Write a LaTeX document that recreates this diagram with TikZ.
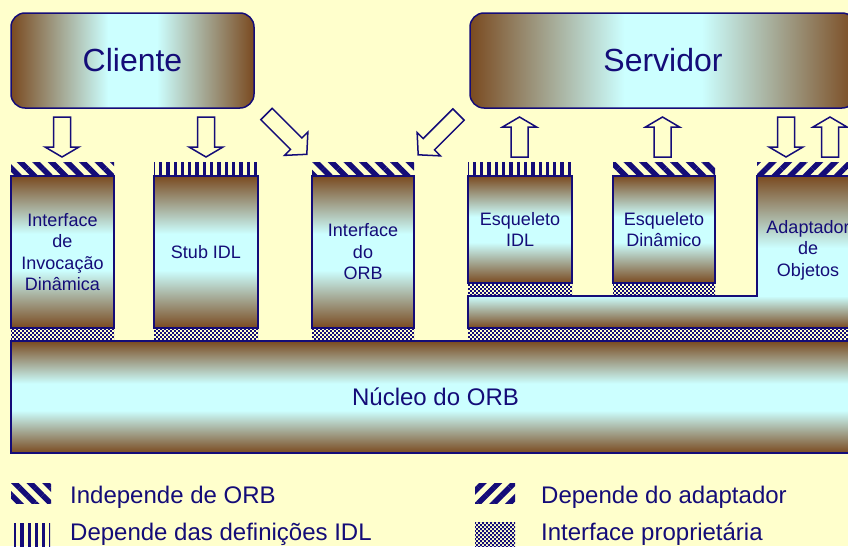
\documentclass[tikz,border=0pt]{standalone}
\usepackage{fontspec}
\setmainfont{Liberation Sans}
\usetikzlibrary{patterns}
\usetikzlibrary{patterns.meta}

\definecolor{bgyellow}{RGB}{255,255,204}
\definecolor{orbbrown}{RGB}{122,74,32}
\definecolor{orbcyan}{RGB}{204,255,255}
\definecolor{orbnavy}{RGB}{20,12,120}

% sombreamentos com faixa ciano no meio
\pgfdeclarehorizontalshading{orbh}{100bp}{color(0bp)=(orbbrown); color(25bp)=(orbbrown);
    color(45bp)=(orbcyan); color(55bp)=(orbcyan); color(75bp)=(orbbrown); color(100bp)=(orbbrown)}
\pgfdeclareverticalshading{orbv}{100bp}{color(0bp)=(orbbrown); color(25bp)=(orbbrown);
    color(44bp)=(orbcyan); color(56bp)=(orbcyan); color(75bp)=(orbbrown); color(100bp)=(orbbrown)}
\pgfdeclareverticalshading{orbdown}{100bp}{color(0bp)=(orbcyan); color(25bp)=(orbcyan);
    color(45bp)=(orbcyan); color(75bp)=(orbbrown); color(100bp)=(orbbrown)}
\pgfdeclareverticalshading{orbup}{100bp}{color(0bp)=(orbbrown); color(25bp)=(orbbrown);
    color(75bp)=(orbcyan); color(100bp)=(orbcyan)}
\pgfdeclarepatternformonly{finechk}{\pgfqpoint{-.05pt}{-.05pt}}{\pgfqpoint{4.05pt}{4.05pt}}{\pgfqpoint{4pt}{4pt}}{
    \pgfpathrectangle{\pgfpointorigin}{\pgfqpoint{1.8pt}{1.8pt}}
    \pgfpathrectangle{\pgfqpoint{2pt}{2pt}}{\pgfqpoint{1.8pt}{1.8pt}}
    \pgfusepath{fill}}

\tikzset{
    outline/.style={draw=orbnavy, line width=1.5pt},
    topbox/.style={outline, rounded corners=14pt, shading=orbh,
        text=orbnavy, font=\fontsize{32}{36}\selectfont, outer sep=0pt},
    block/.style={outline, shading=orbv,
        text=orbnavy, align=center, font=\fontsize{18}{21.5}\selectfont, outer sep=0pt, inner sep=0pt},
    lbl/.style={text=orbnavy, align=center, font=\fontsize{18}{21.5}\selectfont},
    legtext/.style={text=orbnavy, font=\fontsize{24}{28}\selectfont, anchor=base west, inner sep=0pt},
    indep/.style={pattern={Lines[angle=-45,distance=11pt,line width=5.5pt]}, pattern color=orbnavy},
    idldef/.style={pattern={Lines[angle=90,distance=7.3pt,line width=3.3pt]}, pattern color=orbnavy},
    adapt/.style={pattern={Lines[angle=45,distance=11pt,line width=5.5pt]}, pattern color=orbnavy},
    propr/.style={pattern=finechk, pattern color=orbnavy},
    arrowbox/.style={draw=orbnavy, line width=1.5pt, fill=bgyellow, line join=miter},
    blkarrow/.pic={
        \draw[arrowbox] (-8.5,0) -- (-8.5,30) -- (-17,30) -- (0,40) -- (17,30) -- (8.5,30) -- (8.5,0) -- cycle;
    },
    diagarrow/.pic={
        \draw[arrowbox] (-8,0) -- (-8,42) -- (-16.5,42) -- (0,57) -- (16.5,42) -- (8,42) -- (8,0) -- cycle;
    },
}

\begin{document}
\begin{tikzpicture}[x=1pt,y=-1pt]
    \useasboundingbox (0,0) rectangle (848,546);
    \clip (0,0) rectangle (848,546);
    \fill[bgyellow] (0,0) rectangle (848,546);

    % cliente e servidor
    \node[topbox, minimum width=243, minimum height=95] (cli) at (132.5,60.5) {Cliente};
    \node[topbox, minimum width=386, minimum height=95] (srv) at (663,60.5) {Servidor};

    % blocos
    \foreach \xc/\w/\yc/\h/\pat/\nm/\txt in {
        62.5/103/252/152/indep/dii/{Interface\\de\\Invocação\\Dinâmica},
        206/104/252/152/idldef/stub/{Stub IDL},
        363/102/252/152/indep/iorb/{Interface\\do\\ORB},
        520/104/229.5/107/idldef/eidl/{Esqueleto\\IDL},
        664/102/229.5/107/indep/edin/{Esqueleto\\Dinâmico}} {
        \node[block, minimum width=\w, minimum height=\h] (\nm) at (\xc,\yc) {\txt};
        \fill[\pat] (\nm.north west) ++(0,-14) rectangle (\nm.north east);
        \fill[propr] (\nm.south west) rectangle ++(\w,12.5);
    }

    % adaptador de objetos
    \shade[shading=orbdown] (757,176) rectangle (860,296);
    \shade[shading=orbup] (468,296) rectangle (860,328);
    \draw[outline] (468,296) -- (757,296) -- (757,176) -- (860,176) -- (860,328) -- (468,328) -- cycle;
    \node[lbl] (adap) at (808,250) {Adaptador\\de\\Objetos};
    \fill[adapt] (757,162) rectangle (860,176);
    \fill[propr] (468,328) rectangle (860,340.5);

    % nucleo
    \node[block, minimum width=849, minimum height=112, font=\fontsize{24}{28}\selectfont] (nucleo) at (435.5,397) {Núcleo do ORB};

    % setas
    \foreach \x in {62, 206, 786}
        \pic at (\x,117) {blkarrow};
    \foreach \x in {519.5, 662.5, 830}
        \pic[rotate=180] at (\x,157) {blkarrow};
    \pic[rotate=45] at (266.5,114) {diagarrow};
    \pic[rotate=-45] at (458.5,114.5) {diagarrow};

    % legenda
    \fill[indep] (11,483) rectangle (51,503);
    \fill[idldef] (14,523) rectangle (50,548);
    \fill[adapt] (475,483) rectangle (515,503);
    \fill[propr] (475,522) rectangle (515,548);
    \node[legtext] (l1) at (70,503) {Independe de ORB};
    \node[legtext] (l2) at (70,540) {Depende das definições IDL};
    \node[legtext] (l3) at (541,503) {Depende do adaptador};
    \node[legtext] (l4) at (541,540) {Interface proprietária};
\end{tikzpicture}
\end{document}
